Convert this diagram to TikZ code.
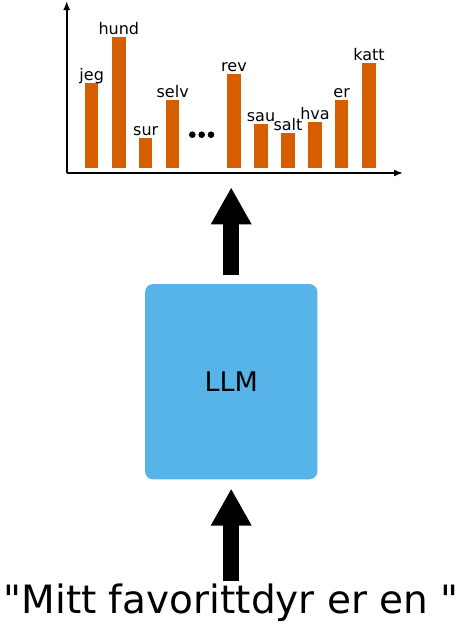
\documentclass[tikz,border=0pt]{standalone}
\usepackage{fontspec}
\setmainfont{DejaVu Sans}[Ligatures=TeXOff]
\usetikzlibrary{arrows.meta,positioning}
\definecolor{skyblue}{HTML}{56B4E9}
\definecolor{vermillion}{HTML}{D55E00}

\begin{document}
\begin{tikzpicture}[
  x=1pt,y=-1pt,
  bar/.style={fill=vermillion},
  word/.style={font=\fontsize{16}{19}\selectfont,anchor=base,inner sep=0pt},
  axis/.style={-{Latex[length=9pt,width=7pt]},line width=1.6pt},
  llmbox/.style={fill=skyblue,rounded corners=8pt,minimum width=172.3pt,minimum height=195.3pt,font=\fontsize{27}{32}\selectfont},
  prompt/.style={font=\fontsize{39}{45}\selectfont,anchor=base,inner sep=2pt},
  fat/.style={line width=16pt,-{Triangle[width=38pt,length=37pt]}}
]
\useasboundingbox (0,0) rectangle (463,625);
% chart axes
\coordinate (origin) at (66.7,173);
\coordinate (ytop) at (66.7,1);
\coordinate (xend) at (403,173);
\draw[axis] (origin) -- (ytop);
\draw[axis] (origin) -- (xend);
% bars and their words
\foreach \name/\x/\top in {jeg/91.7/82.7,hund/118.8/37.3,sur/145.7/138.3,selv/172.7/100,
  rev/234/74,sau/261/124,salt/288/133,hva/315/121.7,er/341.7/100,katt/369/62.7}{
  \fill[bar] (\x-6.7,168) rectangle (\x+6.7,\top);
  \node[word] (\name) at (\x,\top-2.5) {\name};
}
\foreach \x in {192.3,201.7,211}
  \fill (\x,134.7) circle (3.3pt);
\coordinate (chartfoot) at (231.2,187.3);
% model and prompt
\node[llmbox] (llm) at (231.2,381.7) {LLM};
\node[prompt] (prompt) at (231.2,613) {"Mitt favorittdyr er en "};
\draw[fat,shorten <=9pt] (llm.north) -- (chartfoot);
\draw[fat,shorten >=9pt] (llm.south |- prompt.north) -- (llm.south);
\end{tikzpicture}
\end{document}
